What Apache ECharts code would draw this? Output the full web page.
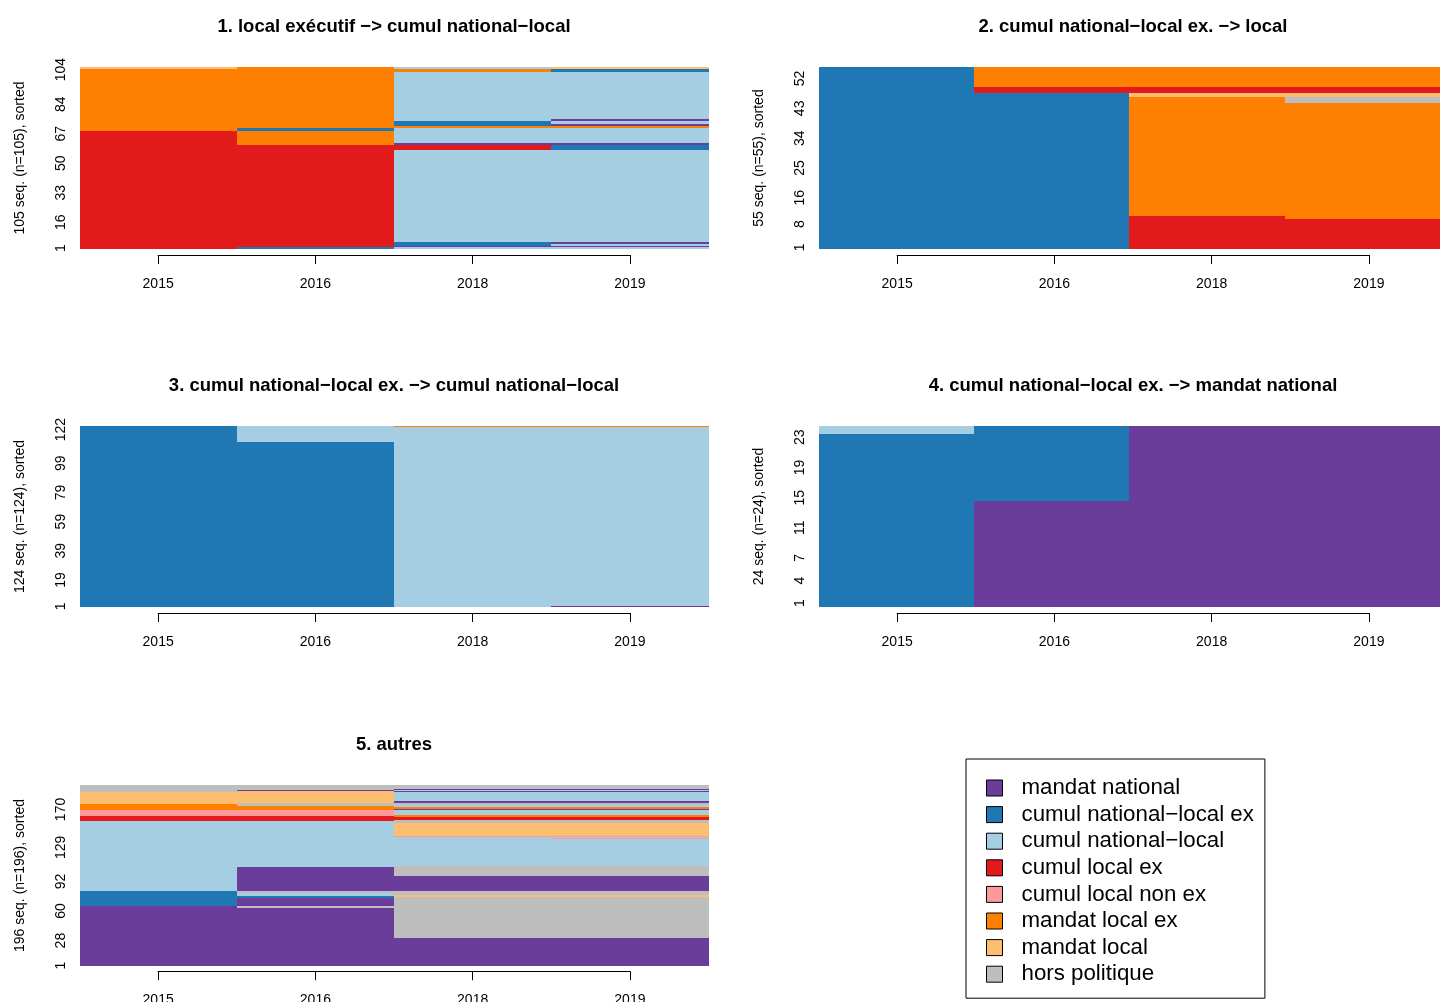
<!DOCTYPE html>
<html><head><meta charset="utf-8">
<script src="https://cdn.jsdelivr.net/npm/echarts@6/dist/echarts.min.js"></script>
<style>html,body{margin:0;padding:0;background:#fff}#c{width:1440px;height:1002px}</style>
</head><body><div id="c"></div>
<script>
// ---------- data ----------
const years = ['2015', '2016', '2018', '2019'];
const states = ['mandat national', 'cumul national−local ex', 'cumul national−local', 'cumul local ex',
  'cumul local non ex', 'mandat local ex', 'mandat local', 'hors politique'];
const stateColors = ['#6A3D9A', '#1F78B4', '#A6CEE3', '#E31A1C', '#FB9A99', '#FF7F00', '#FDBF6F', '#BEBEBE'];
const MN = 0, CNLX = 1, CNL = 2, CLX = 3, CLN = 4, MLX = 5, ML = 6, HP = 7;

const titles = [
  '1. local exécutif −> cumul national−local',
  '2. cumul national−local ex. −> local',
  '3. cumul national−local ex. −> cumul national−local',
  '4. cumul national−local ex. −> mandat national',
  '5. autres'
];
const seqCounts = [105, 55, 124, 24, 196];
const yTicks1 = [1, 16, 33, 50, 67, 84, 104];
const yTicks2 = [1, 8, 16, 25, 34, 43, 52];
const yTicks3 = [1, 19, 39, 59, 79, 99, 122];
const yTicks4 = [1, 4, 7, 11, 15, 19, 23];
const yTicks5 = [1, 28, 60, 92, 129, 170];

// blocks per year column, bottom -> top: [state, number of sequences]
const panel1 = [
  [[CLX, 68], [MLX, 36], [ML, 1]],
  [[CNLX, 1], [CLX, 59], [MLX, 8], [CNLX, 2], [MLX, 35]],
  [[CNL, 1], [MN, 1], [CNLX, 2], [CNL, 53], [CLX, 3], [MN, 1], [CNL, 9], [MLX, 1], [CNLX, 3], [CNL, 28], [MLX, 2], [CNL, 1]],
  [[CNL, 1], [MN, 1], [CNL, 1], [MN, 1], [CNL, 53], [CNLX, 3], [MN, 1], [CNL, 9], [MLX, 1], [MN, 1], [CNL, 2], [MN, 1], [CNL, 27], [CNLX, 2], [ML, 1]]
];
const panel2 = [
  [[CNLX, 55]],
  [[CNLX, 47], [CLX, 2], [MLX, 6]],
  [[CLX, 10], [MLX, 36], [ML, 1], [CLX, 2], [MLX, 6]],
  [[CLX, 9], [MLX, 35], [HP, 2], [ML, 1], [CLX, 2], [MLX, 6]]
];
const panel3 = [
  [[CNLX, 124]],
  [[CNLX, 113], [CNL, 11]],
  [[CNL, 123], [MLX, 1]],
  [[MN, 1], [CNL, 122], [MLX, 1]]
];
const panel4 = [
  [[CNLX, 23], [CNL, 1]],
  [[MN, 14], [CNLX, 10]],
  [[MN, 24]],
  [[MN, 24]]
];
const panel5 = [
  [[MN, 65], [CNLX, 16], [CNL, 76], [CLX, 5], [CLN, 7], [MLX, 6], [ML, 13], [HP, 8]],
  [[MN, 63], [HP, 2], [MN, 9], [CNLX, 2], [CNL, 3], [HP, 2], [MN, 26], [CNL, 50], [CLX, 5], [CLN, 7], [MLX, 4], [HP, 3], [CNL, 1], [ML, 12], [MN, 2], [HP, 5]],
  [[MN, 30], [HP, 45], [ML, 2], [HP, 4], [MN, 16], [HP, 11], [CNL, 32], [CLN, 1], [ML, 14], [HP, 3], [CLX, 3], [MLX, 2], [CNL, 6], [MN, 1], [MLX, 2], [CNL, 2], [HP, 3], [MN, 2], [CNL, 9], [MN, 1], [CNL, 2], [MN, 1], [HP, 4]],
  [[MN, 30], [HP, 45], [ML, 2], [HP, 4], [MN, 16], [HP, 11], [CNL, 30], [CLN, 1], [CNL, 1], [CLN, 1], [ML, 14], [HP, 3], [CLX, 3], [MLX, 2], [CNL, 6], [MN, 1], [MLX, 2], [CNL, 2], [HP, 3], [MN, 2], [CNL, 9], [MN, 1], [CNL, 2], [MN, 1], [HP, 4]]
];

// ---------- layout ----------
const FONT = '"Liberation Sans", Arial, Helvetica, sans-serif';
const panels = [panel1, panel2, panel3, panel4, panel5];
const yTicks = [yTicks1, yTicks2, yTicks3, yTicks4, yTicks5];
const boxes = [
  { left: 79.5, top: 67, width: 629, height: 182 },
  { left: 818.5, top: 67, width: 629, height: 182 },
  { left: 79.5, top: 426, width: 629, height: 181 },
  { left: 818.5, top: 426, width: 629, height: 181 },
  { left: 79.5, top: 785, width: 629, height: 181 }
];

function blocksToData(panel) {
  const out = [];
  panel.forEach((col, ci) => {
    let start = 0;
    col.forEach(([st, n]) => {
      out.push([ci + 1, start, start + n, st]);
      start += n;
    });
  });
  return out;
}

function renderItem(params, api) {
  const c = api.value(0), s = api.value(1), e = api.value(2), st = api.value(3);
  const p0 = api.coord([c - 0.5, s]);
  const p1 = api.coord([c + 0.5, e]);
  const x0 = Math.round(p0[0]), x1 = Math.round(p1[0]);
  const yb = Math.round(p0[1]);
  let yt = Math.round(p1[1]);
  if (yb - yt < 1) yt = yb - 1;
  return { type: 'rect', shape: { x: x0, y: yt, width: x1 - x0, height: yb - yt },
    style: { fill: stateColors[st] } };
}

const grid = [], xAxis = [], yAxis = [], series = [], title = [];
panels.forEach((panel, p) => {
  const b = boxes[p];
  const n = seqCounts[p];
  grid.push({ left: b.left, top: b.top, width: b.width, height: b.height, containLabel: false });
  grid.push({ left: b.left + b.width / 8, top: b.top + b.height + 5, width: b.width * 3 / 4, height: 1, containLabel: false });
  xAxis.push({ gridIndex: 2 * p, type: 'value', min: 0.5, max: 4.5, show: false });
  xAxis.push({ gridIndex: 2 * p + 1, type: 'category', data: years, boundaryGap: false,
    axisLine: { show: true, lineStyle: { color: '#000', width: 1 } },
    axisTick: { show: true, length: 9, lineStyle: { color: '#000', width: 1 } },
    axisLabel: { margin: 22, fontSize: 14, color: '#000', fontFamily: FONT },
    splitLine: { show: false } });
  yAxis.push({ gridIndex: 2 * p, type: 'value', min: 0, max: n, show: false });
  const cats = [];
  for (let i = 1; i <= n; i++) cats.push(String(i));
  const ticks = yTicks[p];
  yAxis.push({ gridIndex: 2 * p, type: 'category', data: cats, position: 'left',
    axisLine: { show: false }, axisTick: { show: false }, splitLine: { show: false },
    axisLabel: { interval: (idx) => ticks.indexOf(idx + 1) >= 0, rotate: 90, margin: 11,
      fontSize: 14, color: '#000', fontFamily: FONT },
    name: n + ' seq. (n=' + n + '), sorted', nameLocation: 'middle', nameGap: 52, nameRotate: 90,
    nameTextStyle: { fontSize: 14, color: '#000', fontFamily: FONT } });
  yAxis.push({ gridIndex: 2 * p + 1, type: 'value', show: false });
  series.push({ type: 'custom', name: 'panel' + (p + 1), xAxisIndex: 2 * p, yAxisIndex: 3 * p,
    renderItem: renderItem, data: blocksToData(panel), silent: true });
  title.push({ text: titles[p], left: b.left + b.width / 2, top: b.top - 50, textAlign: 'center', padding: 0,
    textStyle: { fontSize: 18.5, fontWeight: 'bold', color: '#000', fontFamily: FONT } });
});

states.forEach((s, i) => {
  series.push({ type: 'bar', name: s, data: [], xAxisIndex: 1, yAxisIndex: 2,
    itemStyle: { color: stateColors[i] } });
});

const chart = echarts.init(document.getElementById('c'), null, { renderer: 'canvas' });
chart.setOption({
  animation: false,
  backgroundColor: '#fff',
  title: title,
  grid: grid, xAxis: xAxis, yAxis: yAxis, series: series,
  legend: {
    data: states, orient: 'vertical', left: 966, top: 759, padding: [18, 11, 13, 20],
    itemGap: 4.6, itemWidth: 16, itemHeight: 16, icon: 'rect', selectedMode: false,
    borderColor: '#000', borderWidth: 1,
    itemStyle: { borderColor: '#000', borderWidth: 1 },
    textStyle: { fontSize: 22.3, color: '#000', fontFamily: FONT, lineHeight: 22, padding: [0, 0, 0, 14] }
  }
});
</script></body></html>
